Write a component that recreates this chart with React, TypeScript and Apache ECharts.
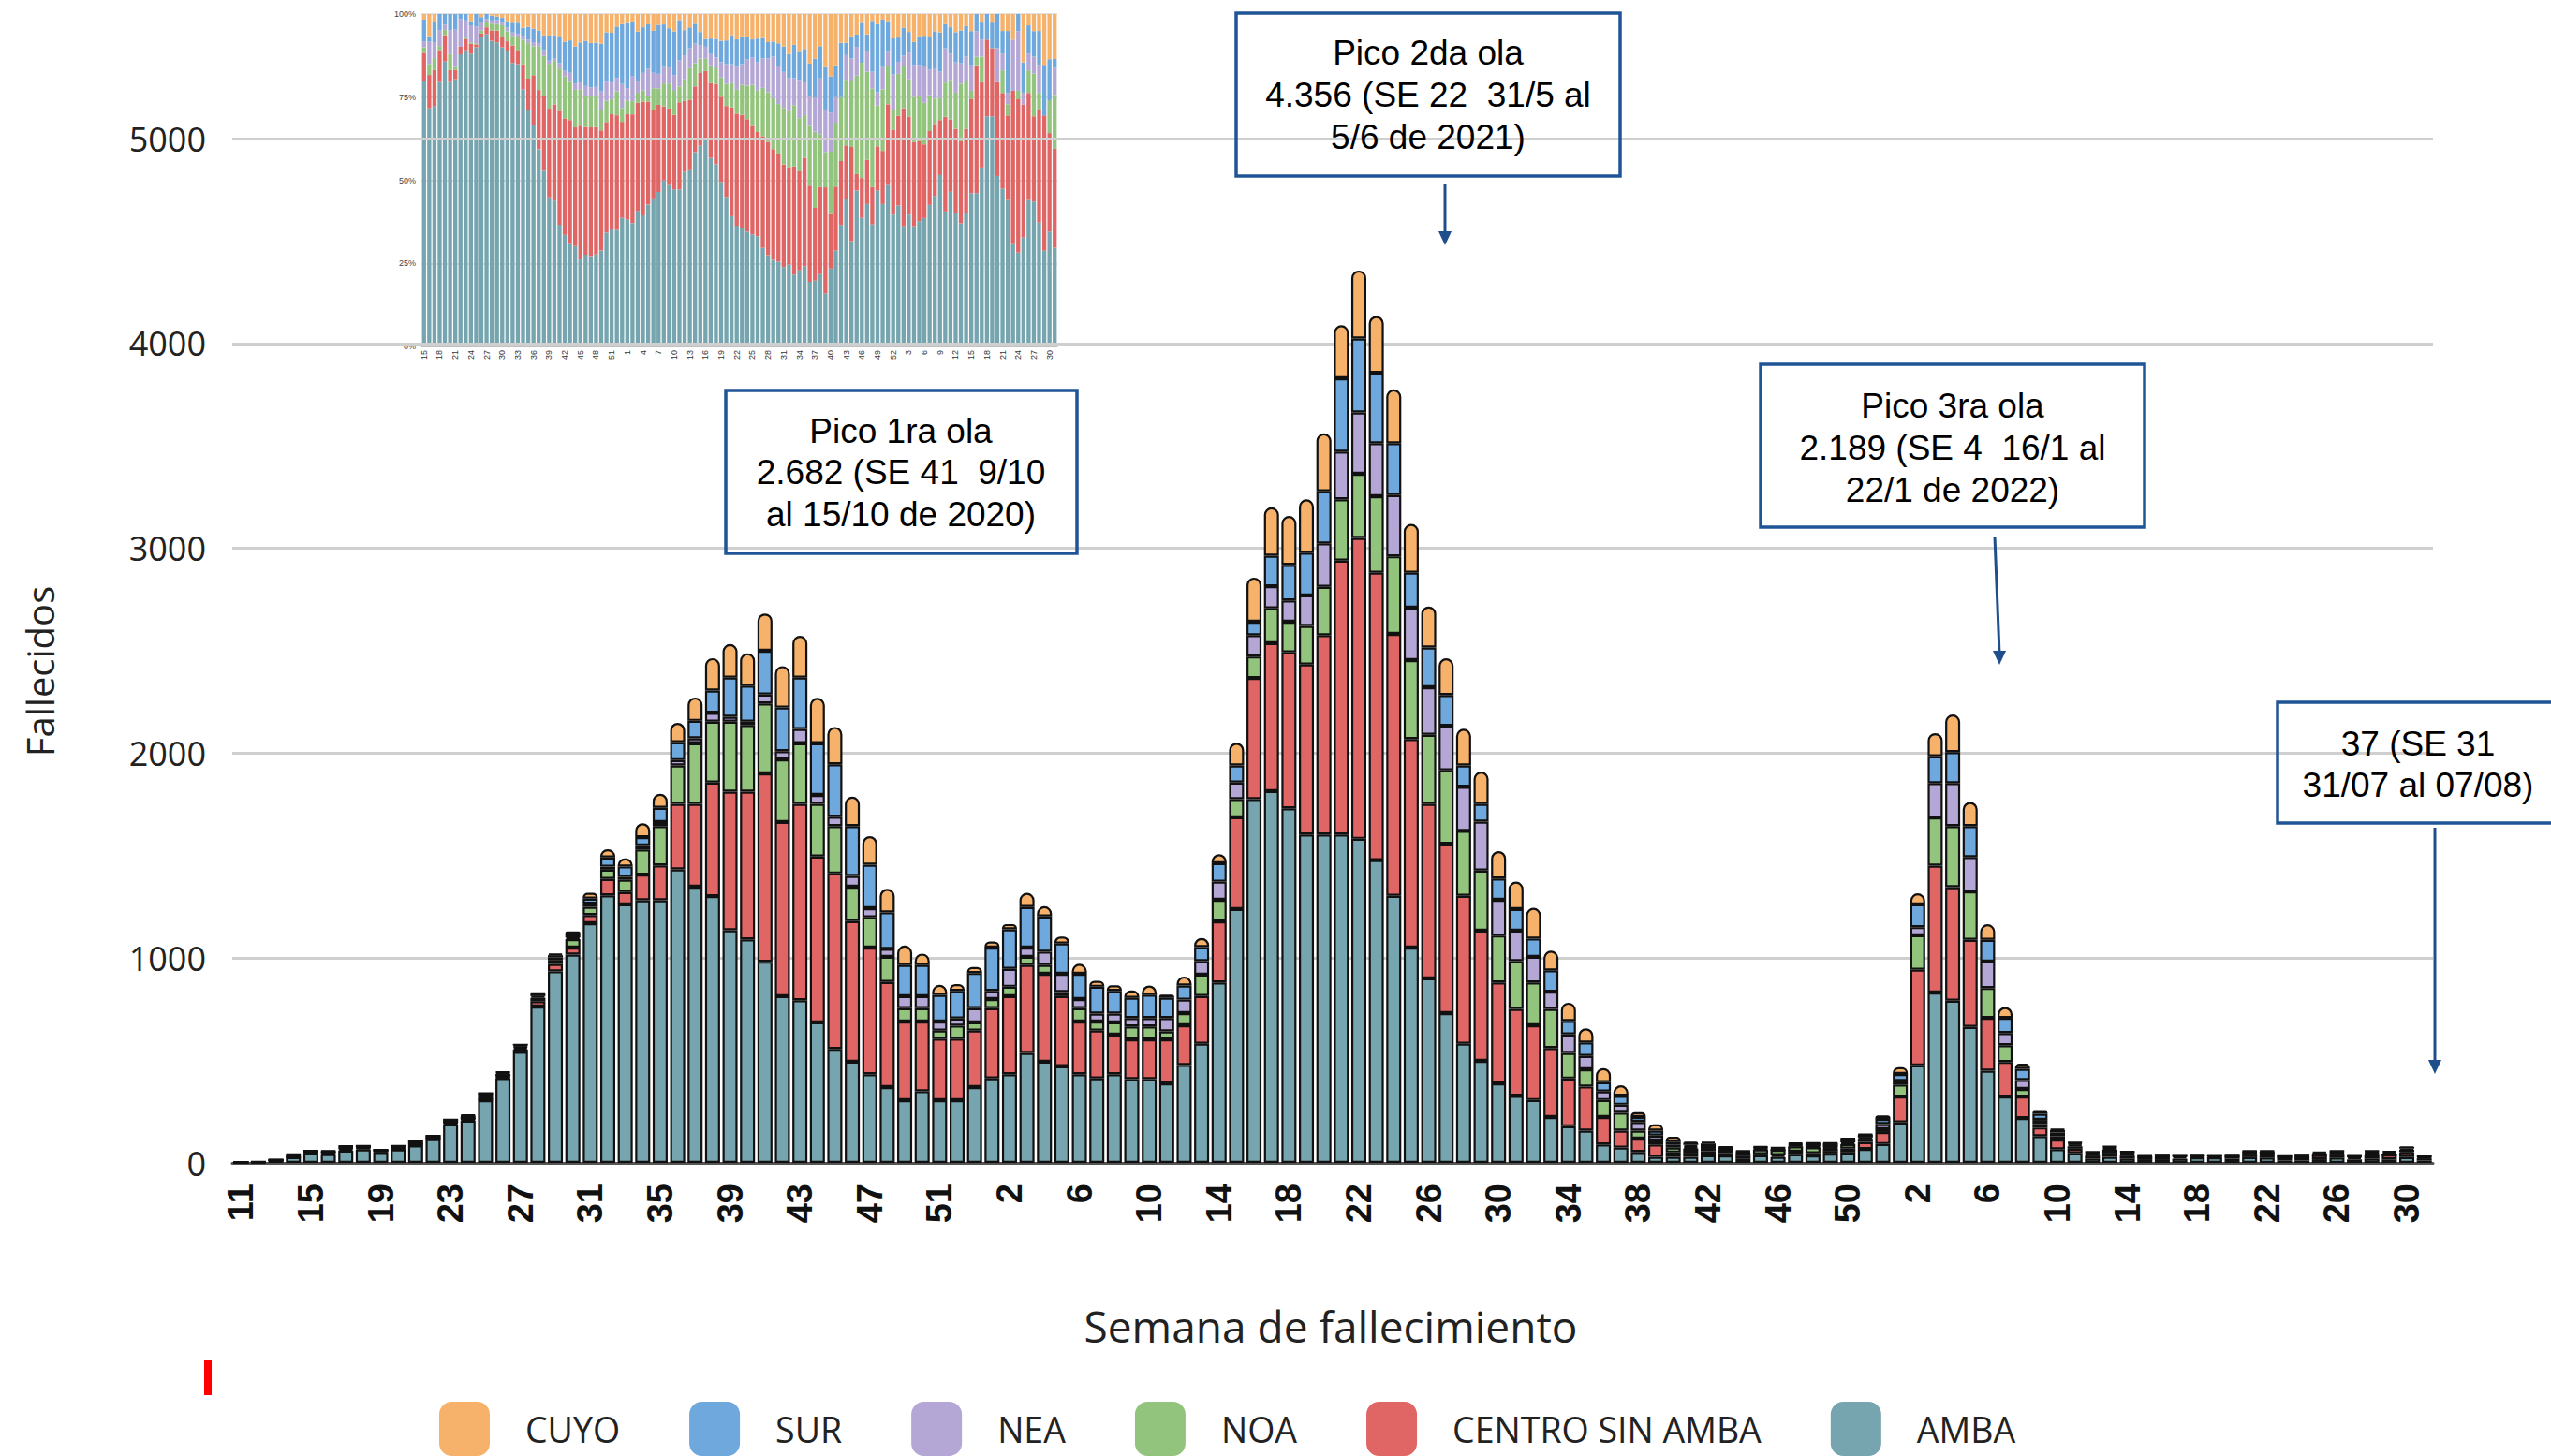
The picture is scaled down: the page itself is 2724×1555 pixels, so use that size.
import React, { useEffect, useRef } from 'react';
import * as echarts from 'echarts';

// Epidemiological weeks: 2020 (11-53), 2021 (1-52), 2022 (1-31)
const weeks2020 = [11,12,13,14,15,16,17,18,19,20,21,22,23,24,25,26,27,28,29,30,31,32,33,34,35,36,37,38,39,40,41,42,43,44,45,46,47,48,49,50,51,52,53];
const weeks2021 = [1,2,3,4,5,6,7,8,9,10,11,12,13,14,15,16,17,18,19,20,21,22,23,24,25,26,27,28,29,30,31,32,33,34,35,36,37,38,39,40,41,42,43,44,45,46,47,48,49,50,51,52];
const weeks2022 = [1,2,3,4,5,6,7,8,9,10,11,12,13,14,15,16,17,18,19,20,21,22,23,24,25,26,27,28,29,30,31];
const weekLabels = [...weeks2020, ...weeks2021, ...weeks2022].map(String);

const AMBA = [3,4,12,28,48,43,60,66,54,66,86,116,188,207,306,414,542,763,935,1017,1170,1306,1262,1282,1282,1433,1348,1302,1136,1091,982,814,794,686,557,494,433,370,306,350,306,306,370,
  413,433,537,494,472,433,413,433,409,409,388,478,582,881,1239,1776,1815,1731,1603,1603,1603,1582,1478,1304,1051,901,731,582,498,388,328,307,224,179,158,90,75,54,30,30,30,38,36,19,38,29,42,36,46,51,68,92,
  198,476,832,792,664,450,324,219,131,67,47,22,30,22,18,18,21,27,27,20,28,26,12,11,18,26,17,22,17,28,11];
const CENTRO = [0,0,1,2,5,6,9,8,5,3,3,3,7,7,3,5,12,26,36,34,40,80,60,125,170,320,405,555,676,721,919,850,959,810,856,686,618,513,384,340,301,301,276,
  342,381,429,429,342,257,233,193,194,194,215,194,233,298,448,591,722,761,830,973,1337,1469,1403,1278,1018,851,827,722,636,493,424,365,337,233,215,134,83,65,60,21,20,20,13,17,4,9,13,11,13,19,34,59,
  126,467,619,554,425,258,169,105,42,47,22,14,20,14,11,15,10,9,8,11,17,15,18,18,22,19,10,20,24,24,11];
const NOA = [0,0,0,1,1,2,3,1,1,4,1,0,1,1,1,4,9,17,20,41,40,45,60,123,192,187,296,297,342,326,342,306,296,257,231,168,148,123,65,65,39,63,40,
  45,46,40,43,20,65,44,60,63,63,39,59,104,105,89,105,170,150,188,236,299,313,373,379,385,338,358,317,293,229,233,209,191,125,84,83,87,39,20,24,20,20,16,12,24,26,26,29,12,22,16,14,
  59,168,235,298,236,146,82,37,17,17,12,6,14,8,1,1,3,0,0,0,4,2,0,1,0,4,5,3,0,8,6];
const NEA = [0,0,0,2,1,4,4,4,1,6,12,11,11,12,17,11,5,8,12,8,15,15,15,20,20,26,24,43,24,16,43,40,69,43,46,53,44,39,59,59,44,35,69,
  40,87,45,65,89,45,39,43,41,41,65,66,66,89,81,104,108,104,149,212,233,299,259,299,256,232,218,215,239,174,149,125,84,90,65,42,39,42,24,15,8,0,6,4,7,0,6,5,4,8,6,25,
  17,40,168,210,168,129,59,44,20,17,8,5,5,4,3,3,2,0,0,4,3,2,6,7,2,3,2,5,0,0,3];
const SUR = [0,1,3,8,4,1,5,4,2,4,5,2,4,3,13,7,9,12,11,17,25,45,50,40,69,87,85,109,191,176,214,213,251,253,256,243,213,178,152,152,130,135,172,
  211,193,198,172,148,123,131,111,99,114,99,69,69,90,83,66,149,173,209,254,358,361,344,253,171,194,150,104,86,104,105,89,104,66,66,45,44,24,24,14,10,17,3,4,3,9,5,15,20,17,13,25,
  34,111,131,151,151,106,74,54,30,12,8,5,8,5,4,2,2,3,3,4,4,11,0,2,5,5,3,6,9,10,1];
const CUYO = [0,0,0,1,1,4,2,0,0,0,0,0,0,5,0,4,0,4,8,13,28,40,39,68,69,95,114,158,164,158,182,202,204,221,182,144,139,115,95,56,49,33,29,
  30,26,69,50,34,49,29,27,36,45,15,44,44,44,111,215,236,239,260,283,259,332,277,263,238,200,179,179,158,134,134,150,96,89,69,69,51,24,30,24,16,9,7,4,5,2,6,2,3,2,3,17,
  33,54,113,184,118,76,53,25,14,5,4,3,4,2,2,0,1,0,1,0,3,3,3,0,8,2,2,3,9,11,5];

const seriesDefs = [
  { name: 'AMBA', data: AMBA, color: '#76A5AF' },
  { name: 'CENTRO SIN AMBA', data: CENTRO, color: '#E06666' },
  { name: 'NOA', data: NOA, color: '#93C47D' },
  { name: 'NEA', data: NEA, color: '#B4A7D6' },
  { name: 'SUR', data: SUR, color: '#6FA8DC' },
  { name: 'CUYO', data: CUYO, color: '#F6B26B' },
];
const legendOrder = ['CUYO', 'SUR', 'NEA', 'NOA', 'CENTRO SIN AMBA', 'AMBA'];

// Inset (100% stacked) starts at SE 15 of 2020
const insetStart = 4;
const insetCats = weekLabels.slice(insetStart);
const totals = AMBA.map((_, i) => seriesDefs.reduce((s, d) => s + d.data[i], 0));
const shareOf = (arr: number[]) =>
  arr.slice(insetStart).map((v, k) => {
    const t = totals[k + insetStart];
    return t ? +(v / t * 100).toFixed(2) : 0;
  });

const annotations = [
  { box: [775, 417, 375, 174], cx: 962, lines: ['Pico 1ra ola', '2.682 (SE 41  9/10', 'al 15/10 de 2020)'], ys: [460, 504, 549] },
  { box: [1320, 14, 410, 174], cx: 1525, lines: ['Pico 2da ola', '4.356 (SE 22  31/5 al', '5/6 de 2021)'], ys: [56, 101, 146] },
  { box: [1880, 389, 410, 174], cx: 2085, lines: ['Pico 3ra ola', '2.189 (SE 4  16/1 al', '22/1 de 2022)'], ys: [433, 478, 523] },
  { box: [2432, 750, 320, 129], cx: 2582, lines: ['37 (SE 31', '31/07 al 07/08)'], ys: [794, 838] },
];
const arrows = [
  { x1: 1543, y1: 196, x2: 1543, y2: 262 },
  { x1: 2130, y1: 573, x2: 2135, y2: 710 },
  { x1: 2600, y1: 884, x2: 2600, y2: 1147 },
];

export default function App() {
  const ref = useRef<HTMLDivElement>(null);
  useEffect(() => {
    if (!ref.current) return;
    const chart = echarts.init(ref.current, undefined, { renderer: 'svg' });
    const stroke = '#1F5597';
    const graphic: any[] = [];
    annotations.forEach((a) => {
      graphic.push({
        type: 'rect', z: 20,
        shape: { x: a.box[0], y: a.box[1], width: a.box[2], height: a.box[3] },
        style: { fill: 'none', stroke, lineWidth: 3.5 },
      });
      a.lines.forEach((t, k) => {
        graphic.push({
          type: 'text', z: 21, x: a.cx, y: a.ys[k],
          style: { text: t, font: '37px "Liberation Sans", Arial, sans-serif', fill: '#000', textAlign: 'center', textVerticalAlign: 'middle', align: 'center', verticalAlign: 'middle' },
        });
      });
    });
    arrows.forEach((r) => {
      graphic.push({ type: 'line', z: 20, shape: { x1: r.x1, y1: r.y1, x2: r.x2, y2: r.y2 - 12 }, style: { stroke: '#1F4E8C', lineWidth: 3 } });
      graphic.push({ type: 'polygon', z: 20, shape: { points: [[r.x2 - 7, r.y2 - 15], [r.x2 + 7, r.y2 - 15], [r.x2, r.y2]] }, style: { fill: '#1F4E8C' } });
    });
    graphic.push({ type: 'rect', shape: { x: 218, y: 1452, width: 8, height: 38 }, style: { fill: '#FF0000' } });
    graphic.push({
      type: 'text', x: 42, y: 717, rotation: Math.PI / 2,
      style: { text: 'Fallecidos', font: '40px "Open Sans", sans-serif', fill: '#222', textAlign: 'center', textVerticalAlign: 'middle', align: 'center', verticalAlign: 'middle' },
    });
    graphic.push({
      type: 'text', x: 1421, y: 1416,
      style: { text: 'Semana de fallecimiento', font: '46px "Open Sans", sans-serif', fill: '#222', textAlign: 'center', textVerticalAlign: 'middle', align: 'center', verticalAlign: 'middle' },
    });

    const mainSeries = seriesDefs.map((d) => ({
      name: d.name, type: 'bar', stack: 'main', xAxisIndex: 0, yAxisIndex: 0, z: 3,
      barWidth: '86%',
      data: d.data,
      itemStyle: { color: d.color, borderColor: '#111', borderWidth: 2.2, borderRadius: d.name === 'CUYO' ? [9, 9, 0, 0] : 0 },
      emphasis: { disabled: true },
    }));
    const insetSeries = seriesDefs.map((d) => ({
      name: d.name, type: 'bar', stack: 'pct', xAxisIndex: 1, yAxisIndex: 1, z: 1,
      barWidth: '78%',
      data: shareOf(d.data),
      itemStyle: { color: d.color },
      emphasis: { disabled: true },
    }));

    chart.setOption({
      animation: false,
      backgroundColor: '#fff',
      grid: [
        { left: 248, top: 148, width: 2350, height: 1094 },
        { left: 450, top: 15, width: 679, height: 355 },
      ],
      xAxis: [
        {
          type: 'category', gridIndex: 0, data: weekLabels, z: 2,
          axisLine: { lineStyle: { color: '#555', width: 3 } },
          axisTick: { show: false },
          axisLabel: { interval: 3, rotate: 90, margin: 22, fontSize: 38, fontWeight: 'bold', fontFamily: '"Liberation Sans", Arial, sans-serif', color: '#111' },
        },
        {
          type: 'category', gridIndex: 1, data: insetCats, z: 0,
          axisLine: { lineStyle: { color: '#BFBFBF', width: 1 } },
          axisTick: { show: false },
          axisLabel: { interval: 2, rotate: 90, margin: 4, fontSize: 9, fontFamily: '"Liberation Sans", Arial, sans-serif', color: '#333' },
        },
      ],
      yAxis: [
        {
          type: 'value', gridIndex: 0, min: 0, max: 5000, interval: 1000, z: 2,
          axisLine: { show: false }, axisTick: { show: false },
          axisLabel: { margin: 28, fontSize: 36, fontFamily: '"Open Sans", sans-serif', color: '#222', formatter: (v: number) => String(v) },
          splitLine: { lineStyle: { color: '#CFCFCF', width: 3 } },
        },
        {
          type: 'value', gridIndex: 1, min: 0, max: 100, interval: 25, z: 0,
          axisLine: { show: false }, axisTick: { show: false },
          axisLabel: { margin: 6, fontSize: 9, fontFamily: '"Liberation Sans", Arial, sans-serif', color: '#444', formatter: '{value}%' },
          splitLine: { lineStyle: { color: '#D9D9D9', width: 1.5 } },
        },
      ],
      legend: {
        data: legendOrder, left: 464, top: 1492, orient: 'horizontal',
        icon: 'roundRect', itemWidth: 54, itemHeight: 58, itemGap: 74,
        selectedMode: false,
        textStyle: { fontSize: 37.5, fontFamily: '"Open Sans", sans-serif', color: '#222', padding: [0, 0, 0, 33] },
      },
      series: [...insetSeries, ...mainSeries],
      graphic,
    });
    return () => chart.dispose();
  }, []);
  return <div ref={ref} style={{ position: 'fixed', left: 0, top: 0, width: 2724, height: 1555, background: '#fff' }} />;
}
